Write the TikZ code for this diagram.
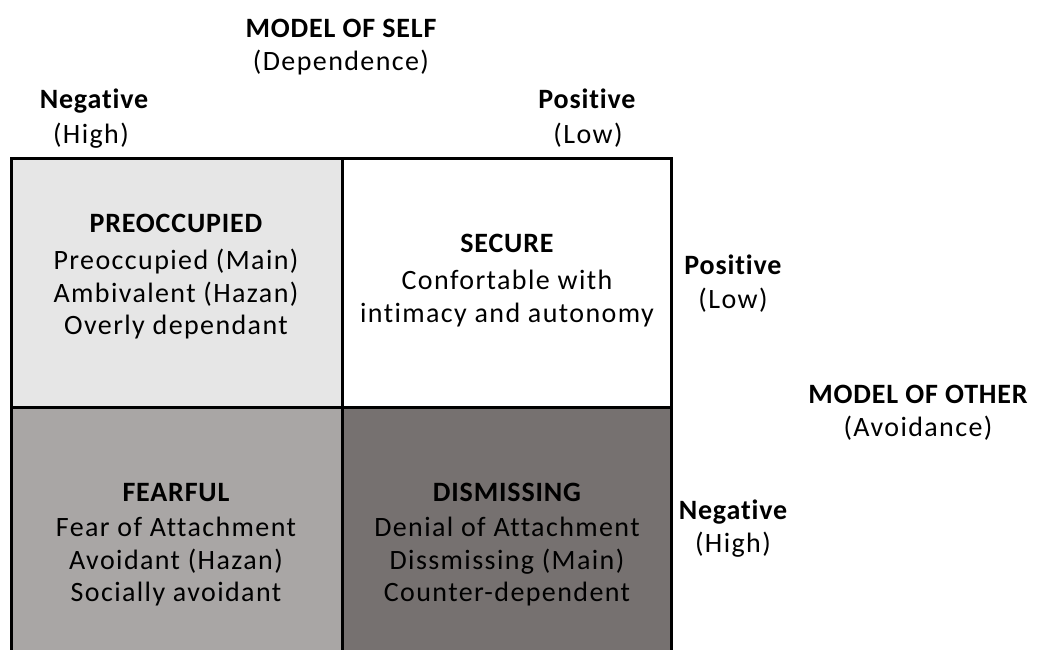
\documentclass[tikz,border=0pt]{standalone}
\usepackage{fontspec}
\setmainfont[Ligatures=NoCommon]{Carlito}
\newfontfamily\regfont[Ligatures=NoCommon,LetterSpace=5]{Carlito}
\newfontfamily\boldfont[Ligatures=NoCommon,LetterSpace=3,UprightFont=*-Bold]{Carlito}
\definecolor{cellA}{HTML}{E6E6E6}
\definecolor{cellB}{HTML}{A9A6A5}
\definecolor{cellC}{HTML}{767170}
\begin{document}
\begin{tikzpicture}[x=1pt,y=-1pt,
  txt/.style={inner sep=0pt, align=center, font=\regfont\fontsize{28}{33}\selectfont, text height=18pt, text depth=6pt},
  hd/.style={txt, font=\boldfont\fontsize{28}{33}\selectfont},
  cellbox/.style={draw=black, line width=3pt}]
\useasboundingbox (0,0) rectangle (1041,650);
\clip (0,0) rectangle (1041,650);
% cells
\fill[cellA] (11.5,158.5) rectangle (342.5,407.5);
\fill[white] (342.5,158.5) rectangle (671.5,407.5);
\fill[cellB] (11.5,407.5) rectangle (342.5,670);
\fill[cellC] (342.5,407.5) rectangle (671.5,670);
\coordinate (tl) at (11.5,158.5);
\coordinate (tr) at (671.5,158.5);
\coordinate (bl) at (11.5,670);
\coordinate (br) at (671.5,670);
\coordinate (tm) at (342.5,158.5);
\coordinate (bm) at (342.5,670);
\coordinate (ml) at (11.5,407.5);
\coordinate (mr) at (671.5,407.5);
\draw[cellbox, line cap=rect] (bl) -- (tl) -- (tr) -- (br);
\draw[cellbox] (tm) -- (bm);
\draw[cellbox] (ml) -- (mr);
% top labels
\node[hd] (mself) at (341,32) {MODEL OF SELF};
\node[txt] (dep) at (341,65) {(Dependence)};
\node[hd] (negt) at (94,103) {Negative};
\node[txt] (hight) at (91,137) {(High)};
\node[hd] (post) at (587,103) {Positive};
\node[txt] (lowt) at (588,137) {(Low)};
% right labels
\node[hd] (posr) at (733,268) {Positive};
\node[txt] (lowr) at (733,302) {(Low)};
\node[hd] (mother) at (918,397) {MODEL OF OTHER};
\node[txt] (avo) at (918,430) {(Avoidance)};
\node[hd] (negr) at (733,513) {Negative};
\node[txt] (highr) at (733,546) {(High)};
% cell texts
\node[hd] (pre) at (176,226) {PREOCCUPIED};
\node[txt] (pre1) at (176,263) {Preoccupied (Main)};
\node[txt] (pre2) at (176,296) {Ambivalent (Hazan)};
\node[txt] (pre3) at (176,328) {Overly dependant};
\node[hd] (sec) at (507,246) {SECURE};
\node[txt] (sec1) at (507,283) {Confortable with};
\node[txt] (sec2) at (507,316) {intimacy and autonomy};
\node[hd] (fea) at (176,495) {FEARFUL};
\node[txt] (fea1) at (176,530) {Fear of Attachment};
\node[txt] (fea2) at (176,563) {Avoidant (Hazan)};
\node[txt] (fea3) at (176,595) {Socially avoidant};
\node[hd] (dis) at (507,495) {DISMISSING};
\node[txt] (dis1) at (507,530) {Denial of Attachment};
\node[txt] (dis2) at (507,563) {Dissmissing (Main)};
\node[txt] (dis3) at (507,595) {Counter-dependent};
\end{tikzpicture}
\end{document}
